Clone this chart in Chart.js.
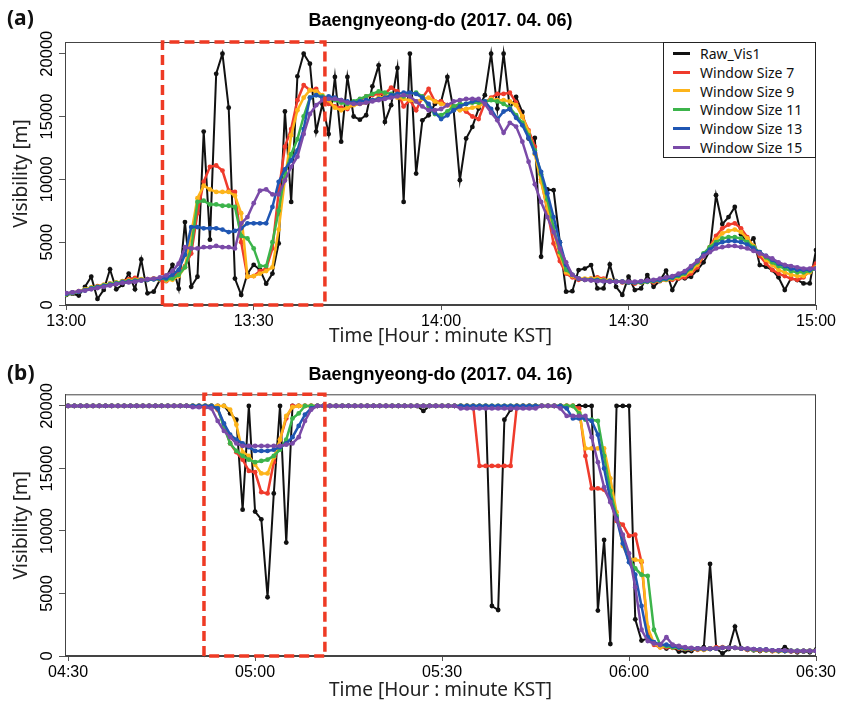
<!DOCTYPE html>
<html lang="en">
<head>
<meta charset="UTF-8">
<title>Baengnyeong-do visibility</title>
<script src="https://cdn.jsdelivr.net/npm/chart.js"></script>
<style>
  body { margin: 0; background: #fff; }
  #wrap { position: relative; width: 843px; height: 705px; overflow: hidden; }
  canvas { position: absolute; left: 0; }
  #cA { top: 0; }
  #cB { top: 351px; }
  .tag { position: absolute; left: 7px; font: bold 21px "Noto Sans", sans-serif; line-height: 1; color: #111; }
  #legend {
    position: absolute; left: 663px; top: 42px; width: 153px; height: 116px;
    box-sizing: border-box; border: 1px solid #222; background: #fff;
    padding-top: 1px; font: 14px "Noto Sans", sans-serif; color: #111;
  }
  #legend .row { height: 18.8px; display: flex; align-items: center; white-space: nowrap; }
  #legend .swatch { display: inline-block; width: 17px; height: 3px; margin: 0 10px 0 9px; }
</style>
</head>
<body>
<div id="wrap">
  <canvas id="cA" width="843" height="352"></canvas>
  <canvas id="cB" width="843" height="354"></canvas>
  <div class="tag" style="top:7px">(a)</div>
  <div class="tag" style="top:362px">(b)</div>
  <div id="legend"></div>
</div>

<script>
// minutes after the start of each panel (1-minute samples)
const minutes = [0,1,2,3,4,5,6,7,8,9,10,11,12,13,14,15,16,17,18,19,20,21,22,23,24,25,26,27,28,29,
  30,31,32,33,34,35,36,37,38,39,40,41,42,43,44,45,46,47,48,49,50,51,52,53,54,55,56,57,58,59,
  60,61,62,63,64,65,66,67,68,69,70,71,72,73,74,75,76,77,78,79,80,81,82,83,84,85,86,87,88,89,
  90,91,92,93,94,95,96,97,98,99,100,101,102,103,104,105,106,107,108,109,110,111,112,113,114,115,116,117,118,119,120];

const tickMinutes = [0, 30, 60, 90, 120];
const tickLabelsA = ['13:00', '13:30', '14:00', '14:30', '15:00'];
const tickLabelsB = ['04:30', '05:00', '05:30', '06:00', '06:30'];
const yTicks = [0, 5000, 10000, 15000, 20000];
const yTop = 20930;

const seriesNames = ['Raw_Vis1', 'Window Size 7', 'Window Size 9', 'Window Size 11', 'Window Size 13', 'Window Size 15'];
const seriesColors = ['#111111', '#ef3b2c', '#fdb41a', '#3cb44b', '#1f56b3', '#7a4aa8'];

// (a) 2017.04.06, 13:00 - 15:00
const rawA = [800,900,750,1450,2250,480,1200,2840,1250,1600,2500,1250,3630,930,1060,2000,2200,
  3200,1300,6600,1450,2250,13800,5200,18400,20000,15700,2100,800,2500,3200,2800,1700,2500,4900,15400,8200,18200,20000,19200,13800,
  16000,13600,18150,13000,18150,15000,14750,15100,17400,19070,14570,15900,18860,8200,20000,10460,14700,15100,16000,16200,
  18150,15500,9930,13250,14170,15630,16700,20000,15630,20000,15600,16560,15360,13250,13300,3840,9190,9140,5000,
  1060,1100,2780,2900,3180,1320,1320,3230,1450,800,2250,1190,1320,2380,1450,1930,2730,1190,2120,2120,2250,
  2780,3400,4300,8740,6440,7000,7800,5640,4900,5300,3180,3050,2780,2200,1190,2120,1990,1720,1720,4370];
const w7A = [900,1000,1050,1200,1350,1500,1600,1700,1750,1900,2050,2150,2000,2050,2100,2000,1900,
  2200,2600,3100,4100,7300,9800,11000,11100,10700,9100,9000,5000,2250,2300,2700,2900,4500,9000,12600,14000,16300,17500,17100,17200,16500,
  16000,15800,15700,15600,16000,16300,16600,16700,16800,16800,17300,17000,15800,16300,15500,16500,17200,16200,16200,
  15900,15800,15700,15400,15000,14800,16100,16500,16800,16800,16900,16100,15000,13900,12600,10000,7500,4900,3500,
  2500,2200,2000,2000,2100,2200,2100,1900,1900,1800,1800,1700,1800,1900,1800,1900,2000,2000,2100,2200,2500,
  3000,3900,4600,5500,6100,6400,6500,6100,5400,4600,3900,3300,2800,2500,2300,2100,2000,2200,2800,3300];
const w9A = [850,950,1100,1250,1400,1450,1600,1700,1800,1850,1950,2000,2050,2000,2100,2050,1950,
  2000,2300,3000,5700,8500,9500,9200,9000,9000,9000,8700,7300,2250,2300,2500,2700,3000,6000,10000,13500,15500,16500,17100,17000,16700,
  16300,15700,15500,15700,15900,16000,16100,16300,16500,16600,16700,16500,16400,16300,16200,16400,16500,16200,16000,
  15900,15700,15500,15600,15700,15800,16100,16400,16300,16300,16200,15900,15000,13800,12000,9800,7700,5800,4000,
  2600,2300,2100,2100,2100,2100,2000,1950,1900,1850,1800,1800,1800,1850,1900,1950,2000,2100,2200,2400,2700,
  3200,4000,4600,5200,5700,5900,6000,5800,5300,4700,4100,3600,3200,2800,2600,2400,2300,2300,2600,3000];
const w11A = [850,950,1050,1200,1350,1450,1550,1650,1750,1850,1900,1950,2000,2000,2050,2050,2050,
  2100,2400,3000,4500,8200,8300,8000,8000,7900,7900,7800,5500,5300,4500,3100,3100,5000,7500,10500,12000,13200,15000,16500,16700,16600,
  16500,16300,16100,16000,16200,16400,16600,16800,17000,16900,16800,16700,16600,16800,16900,16600,15800,15200,15100,
  15400,15800,16000,16000,16100,16100,16200,16300,16200,16000,15700,15100,14500,13500,12300,10400,8400,6200,4200,
  2800,2400,2100,2000,2000,2000,1950,1900,1900,1850,1800,1800,1800,1850,1900,1950,2050,2150,2300,2500,2900,
  3400,4100,4600,5000,5300,5400,5400,5300,5000,4600,4200,3800,3400,3100,2900,2700,2600,2600,2700,2900];
const w13A = [900,1000,1050,1150,1300,1400,1500,1600,1700,1800,1850,1900,1950,2000,2050,2100,2150,
  2400,2800,4000,6200,6200,6100,6100,6100,6000,5800,5900,6100,6500,6500,6500,6500,7800,9800,10800,11500,12300,14000,16500,16700,16500,
  16600,16500,16300,16200,16100,16200,16300,16300,16400,16500,16700,16800,16900,16900,16800,16500,16000,15300,14800,
  15100,15500,15800,16000,16200,16300,16200,15600,14800,15400,15600,14900,14300,13300,12100,10600,8900,7000,5000,
  3200,2400,2100,2000,2000,1950,1900,1900,1850,1850,1800,1800,1850,1900,1950,2000,2100,2200,2400,2600,3000,
  3500,4000,4400,4800,5000,5100,5100,5000,4800,4500,4200,3900,3600,3300,3100,2900,2800,2800,2800,2900];
const w15A = [950,1000,1100,1150,1250,1350,1450,1550,1650,1750,1800,1850,1950,2050,2100,2200,2350,
  2700,3300,4600,4500,4500,4600,4600,4700,4600,4600,4500,6500,7000,8100,9100,9200,8800,8800,9900,11000,11800,13600,15200,15900,16300,
  16400,16400,16300,16100,16000,16000,16100,16200,16300,16400,16500,16600,16700,16600,16200,15800,15500,15500,15600,
  15900,16200,16300,16400,16400,16400,16000,15300,14700,13700,14500,14200,13000,11400,9600,8200,7000,5800,4500,
  3400,2400,2100,2000,1950,1900,1900,1850,1850,1850,1850,1850,1900,1950,2000,2100,2200,2300,2500,2700,3100,
  3500,3900,4200,4500,4600,4700,4700,4600,4500,4300,4100,3900,3700,3400,3200,3100,3000,2900,2900,2900];

// (b) 2017.04.16, 04:30 - 06:30
const rawB = [20000,20000,20000,20000,20000,20000,20000,20000,20000,20000,
  20000,20000,20000,20000,20000,20000,20000,20000,20000,20000,20000,20000,20000,20000,20000,20000,
  19400,18900,11700,20000,11550,10930,4700,13000,20000,9070,20000,
  20000,20000,20000,20000,20000,20000,20000,20000,20000,20000,
  20000,20000,20000,20000,20000,20000,20000,20000,20000,20000,
  19600,
  20000,20000,20000,20000,20000,20000,20000,20000,20000,20000,
  4000,3680,18900,19700,
  20000,20000,20000,20000,20000,20000,20000,20000,20000,20000,20000,20000,20000,
  3630,9280,960,20000,20000,20000,2930,1230,1410,1000,800,600,700,350,350,400,600,700,7360,600,
  200,550,2350,600,500,450,400,500,400,400,700,400,300,350,300,500];
const w7B = [20000,20000,20000,20000,20000,20000,20000,20000,20000,20000,
  20000,20000,20000,20000,20000,20000,20000,20000,20000,20000,20000,20000,20000,20000,
  19700,18500,17000,16300,15700,14800,14700,13100,13000,15500,17300,19000,
  20000,20000,20000,20000,20000,20000,20000,20000,20000,20000,
  20000,20000,20000,20000,20000,20000,20000,20000,20000,20000,
  20000,20000,20000,20000,20000,20000,20000,20000,20000,20000,
  15200,15200,15200,15200,15200,15200,
  20000,20000,20000,20000,20000,20000,20000,20000,20000,20000,
  19800,16000,13400,13400,13300,12500,10800,10500,9600,9700,7500,2000,900,700,
  700,650,600,550,550,500,500,600,700,700,650,650,600,500,500,450,450,400,400,400,350,350,400,400,400];
const w9B = [20000,20000,20000,20000,20000,20000,20000,20000,20000,20000,
  20000,20000,20000,20000,20000,20000,20000,20000,20000,20000,20000,20000,20000,20000,20000,20000,
  19700,18500,16300,16000,15300,14600,14600,15900,17300,19200,19900,
  20000,20000,20000,20000,20000,20000,20000,20000,20000,20000,
  20000,20000,20000,20000,20000,20000,20000,20000,20000,20000,
  20000,20000,20000,20000,20000,20000,20000,20000,20000,20000,
  20000,20000,20000,20000,20000,20000,20000,20000,20000,20000,
  20000,20000,20000,20000,20000,
  19500,16600,16600,16600,16600,14200,11500,8800,7800,7700,7600,2300,1000,700,
  800,700,650,600,550,550,500,550,600,650,650,650,600,550,500,450,450,400,400,400,400,400,400,400,400];
const w11B = [20000,20000,20000,20000,20000,20000,20000,20000,20000,20000,
  20000,20000,20000,20000,20000,20000,20000,20000,20000,20000,20000,20000,20000,20000,
  19800,18300,17000,16400,16000,15700,15500,15600,15700,16000,16500,17300,19000,19400,
  20000,20000,20000,20000,20000,20000,20000,20000,20000,20000,
  20000,20000,20000,20000,20000,20000,20000,20000,20000,20000,
  20000,20000,20000,20000,20000,20000,20000,20000,20000,20000,
  20000,20000,20000,20000,20000,20000,20000,20000,20000,20000,
  20000,20000,20000,20000,
  19400,18900,18900,18800,16000,13200,11200,9500,7800,7000,6500,6400,2100,900,
  800,700,650,600,600,550,550,600,600,650,650,650,600,550,500,500,450,450,400,400,400,400,400,400,400];
const w13B = [20000,20000,20000,20000,20000,20000,20000,20000,20000,20000,
  20000,20000,20000,20000,20000,20000,20000,20000,20000,20000,20000,20000,20000,20000,
  19800,18600,17700,17300,17000,16700,16400,16400,16400,16500,16700,17000,17500,18400,19300,19800,
  20000,20000,20000,20000,20000,20000,20000,20000,20000,20000,
  20000,20000,20000,20000,20000,20000,20000,20000,20000,20000,
  20000,20000,20000,20000,20000,20000,20000,20000,20000,20000,
  20000,20000,20000,20000,20000,20000,20000,20000,20000,20000,
  19800,19000,19000,19000,18800,17700,15000,12500,11000,9000,7500,6500,4000,1500,1100,900,
  900,800,700,650,600,600,550,550,600,650,650,650,600,550,550,500,500,450,450,400,400,400,400,400,400];
const w15B = [20000,20000,20000,20000,20000,20000,20000,20000,20000,20000,
  20000,20000,20000,20000,20000,20000,20000,20000,20000,20000,
  19900,19900,19900,19800,18800,18000,17500,17000,16800,16800,16800,16800,16800,16800,16800,16900,17000,17500,18800,19700,
  20000,20000,20000,20000,20000,20000,20000,20000,20000,20000,
  20000,20000,20000,20000,20000,20000,20000,20000,20000,20000,20000,20000,20000,
  19800,19800,19800,19800,19800,19800,19800,19800,19800,19800,19800,19800,19800,
  20000,20000,20000,
  19800,19200,19200,19200,19200,17500,15500,13500,12300,10900,9700,8200,5500,2100,1200,1000,900,
  1500,900,800,700,650,600,600,600,600,650,650,650,600,600,550,500,500,450,450,450,400,400,400,400,400];

// dashed highlight boxes, in minutes
const boxA = [15.4, 41.4];
const boxB = [21.8, 41.2];

Chart.defaults.font.family = '"Liberation Sans", Arial, sans-serif';
Chart.defaults.color = '#000';

// closed frame around the plot
const framePlugin = {
  id: 'frame',
  beforeDatasetsDraw(chart) {
    const a = chart.chartArea;
    const ctx = chart.ctx;
    ctx.save();
    ctx.strokeStyle = '#444';
    ctx.lineWidth = 1;
    ctx.strokeRect(a.left + 0.5, a.top + 0.5, a.right - a.left - 1, a.bottom - a.top - 1);
    ctx.restore();
  }
};

// y tick labels written along the axis (bottom to top), like the R plot
const yLabelPlugin = {
  id: 'yLabels',
  afterDraw(chart) {
    const s = chart.scales.y;
    const ctx = chart.ctx;
    ctx.save();
    ctx.font = '16.5px "Liberation Sans", Arial, sans-serif';
    ctx.fillStyle = '#000';
    ctx.textAlign = 'center';
    ctx.textBaseline = 'middle';
    yTicks.forEach(v => {
      ctx.save();
      ctx.translate(s.right - 18, s.getPixelForValue(v));
      ctx.rotate(-Math.PI / 2);
      ctx.fillText(String(v), 0, 0);
      ctx.restore();
    });
    ctx.restore();
  }
};

function makePanel(id, title, series, tickLabels, box, opt) {
  const datasets = series.map((vals, k) => ({
    label: seriesNames[k],
    data: vals,
    borderColor: seriesColors[k],
    backgroundColor: seriesColors[k],
    pointBackgroundColor: seriesColors[k],
    borderWidth: k === 0 ? 2 : 2.5,
    pointRadius: 2.4,
    pointBorderWidth: 0,
    tension: 0,
    order: 6 - k
  }));
  datasets.push({
    label: 'box',
    data: [{x: box[0], y: 0}, {x: box[0], y: yTop}, {x: box[1], y: yTop}, {x: box[1], y: 0}, {x: box[0], y: 0}],
    borderColor: '#ee3a24',
    borderWidth: 3.5,
    borderDash: [10, 5],
    pointRadius: 0,
    clip: false,
    order: 0
  });

  return new Chart(document.getElementById(id), {
    type: 'line',
    data: { labels: minutes, datasets },
    plugins: [framePlugin, yLabelPlugin],
    options: {
      responsive: false,
      animation: false,
      devicePixelRatio: 1,
      layout: { padding: { left: 0, right: 27, top: 0, bottom: 0 } },
      plugins: {
        legend: { display: false },
        tooltip: { enabled: false },
        title: {
          display: true, text: title, fullSize: false, color: '#000',
          font: { size: 18, weight: 'bold' },
          padding: { top: opt.titleTop, bottom: opt.titleBottom }
        }
      },
      scales: {
        x: {
          type: 'linear', min: opt.xMin, max: 120,
          afterBuildTicks: s => { s.ticks = tickMinutes.map(v => ({ value: v })); },
          afterFit: s => { s.height = opt.xHeight; },
          grid: { drawOnChartArea: false, tickLength: 5, color: '#555' },
          border: { display: true, color: '#444' },
          ticks: { autoSkip: false, maxRotation: 0, padding: 2, font: { size: 16 }, color: '#000',
                   callback: (v, i) => tickLabels[i] },
          title: { display: true, text: 'Time [Hour : minute KST]', color: '#222',
                   font: { family: '"Noto Sans", sans-serif', size: 19 },
                   padding: { top: 0, bottom: opt.xTitleBottom } }
        },
        y: {
          min: 0, max: yTop,
          afterBuildTicks: s => { s.ticks = yTicks.map(v => ({ value: v })); },
          afterFit: s => { s.width = 65; },
          grid: { drawOnChartArea: false, tickLength: 6, color: '#555' },
          border: { display: true, color: '#444' },
          ticks: { display: false },
          title: { display: true, text: 'Visibility [m]', color: '#222',
                   font: { family: '"Noto Sans", sans-serif', size: 19 },
                   padding: { top: 10, bottom: 0 } }
        }
      }
    }
  });
}

makePanel('cA', 'Baengnyeong-do (2017. 04. 06)', [rawA, w7A, w9A, w11A, w13A, w15A], tickLabelsA, boxA,
  { xMin: -0.2, titleTop: 10, titleBottom: 10.4, xHeight: 47, xTitleBottom: 4 });
makePanel('cB', 'Baengnyeong-do (2017. 04. 16)', [rawB, w7B, w9B, w11B, w13B, w15B], tickLabelsB, boxB,
  { xMin: -0.5, titleTop: 13, titleBottom: 8.7, xHeight: 49, xTitleBottom: 3 });

// legend box inside panel (a)
const legendEl = document.getElementById('legend');
seriesNames.forEach((name, k) => {
  const row = document.createElement('div');
  row.className = 'row';
  row.innerHTML = '<span class="swatch" style="background:' + seriesColors[k] + '"></span>' + name;
  legendEl.appendChild(row);
});
</script>
</body>
</html>
